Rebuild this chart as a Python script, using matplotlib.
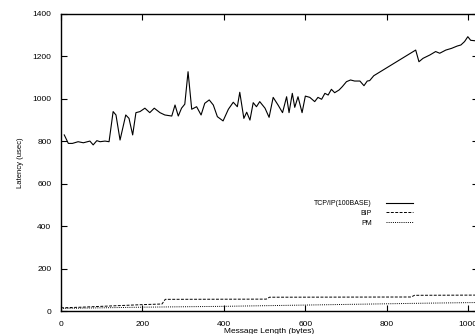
import matplotlib
matplotlib.use("Agg")
import matplotlib.pyplot as plt

plt.rcParams['font.family'] = ['Liberation Sans', 'DejaVu Sans']

# TCP/IP over 100BASE
tcp_x = [8, 18, 28, 42, 55, 71, 79, 88, 96, 108, 118, 128, 135, 145, 159, 167,
         176, 184, 194, 206, 218, 229, 243, 255, 272, 280, 288, 296, 304, 312,
         321, 333, 344, 353, 364, 374, 384, 398, 411, 423, 433, 439, 449, 456,
         464, 472, 480, 488, 501, 511, 521, 533, 544, 554, 560, 568, 574, 582,
         592, 600, 611, 623, 631, 640, 648, 656, 664, 672, 683, 691, 701, 711,
         721, 734, 744, 752, 758, 768, 871, 879, 889, 906, 920, 930, 945, 959,
         973, 982, 991, 999, 1006, 1016, 1024]
tcp_y = [830, 790, 790, 798, 793, 801, 783, 803, 798, 801, 798, 940, 924, 806,
         924, 908, 830, 935, 940, 956, 935, 956, 935, 924, 919, 971, 919, 956,
         975, 1128, 951, 963, 924, 979, 995, 971, 916, 896, 951, 984, 963, 1031,
         908, 937, 900, 982, 963, 987, 956, 913, 1007, 971, 935, 1010, 935, 1026,
         960, 1010, 935, 1013, 1007, 987, 1007, 998, 1026, 1018, 1045, 1029,
         1042, 1058, 1081, 1089, 1084, 1084, 1062, 1084, 1086, 1109, 1230, 1175,
         1191, 1207, 1223, 1215, 1230, 1238, 1249, 1254, 1270, 1293, 1276, 1274,
         1276]

bip_x = [0, 50, 100, 150, 200, 248, 256, 504, 512, 860, 868, 1024]
bip_y = [15, 18, 22, 26, 30, 33, 55, 56, 65, 66, 74, 75]

pm_x = [0, 100, 200, 300, 400, 500, 600, 700, 800, 900, 1024]
pm_y = [12, 15, 18, 20, 22, 25, 28, 31, 34, 37, 40]

fig = plt.figure(figsize=(4.75, 3.34), dpi=100)
ax = fig.add_axes([61/475, 1 - 311/334, (478 - 61)/475, (311 - 14)/334])

ax.plot(tcp_x, tcp_y, color='black', linewidth=0.8, label='TCP/IP(100BASE)')
ax.plot(bip_x, bip_y, color='black', linewidth=0.7, linestyle=(0, (3, 1.5)), label='BIP')
ax.plot(pm_x, pm_y, color='black', linewidth=0.7, linestyle=(0, (1, 1.2)), label='PM')

ax.set_xlim(0, 1024)
ax.set_ylim(0, 1400)
ax.set_xticks(range(0, 1001, 200))
ax.set_yticks(range(0, 1401, 200))
ax.tick_params(direction='in', length=4, width=0.8, top=True, right=True,
               labelsize=6, pad=7)
for s in ax.spines.values():
    s.set_linewidth(1.0)

ax.set_xlabel('Message Length (bytes)', fontsize=6, labelpad=0)
ax.set_ylabel('Latency (usec)', fontsize=5.5, labelpad=6)

ax.legend(loc='upper right', bbox_to_anchor=(413/475, 1 - 200/334),
          bbox_transform=fig.transFigure, frameon=False, fontsize=5,
          markerfirst=False, handlelength=3.9, handletextpad=2.0,
          labelspacing=0.42, borderpad=0, borderaxespad=0)

fig.savefig('out.png', dpi=100)
